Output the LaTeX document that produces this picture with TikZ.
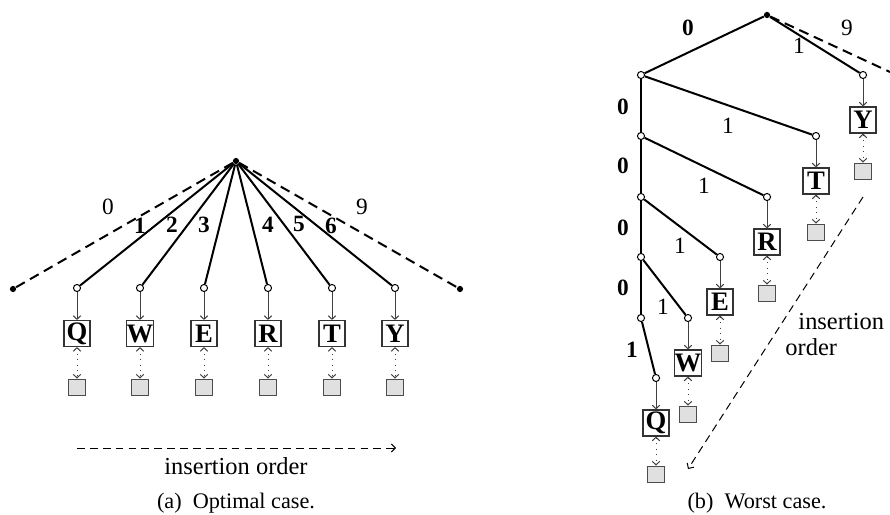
\documentclass[tikz,border=0pt]{standalone}
\usepackage{fontspec}
\setmainfont{Liberation Serif}
\usetikzlibrary{arrows.meta}
\begin{document}
\begin{tikzpicture}[x=0.45pt,y=-0.45pt,
  tnode/.style={circle,draw,fill=white,inner sep=0pt,minimum size=3.2pt,line width=0.45pt},
  rootdot/.style={circle,fill=black,inner sep=0pt,minimum size=2.8pt},
  keybox/.style={draw=black!80,line width=0.5pt,inner sep=0pt,minimum size=11.7pt,font=\fontsize{12}{12}\selectfont\bfseries},
  valbox/.style={draw=black!70,fill=black!12,line width=0.45pt,inner sep=0pt,minimum size=7.6pt},
  tedge/.style={line width=0.9pt},
  deadedge/.style={line width=0.9pt,dash pattern=on 4.5pt off 2.7pt},
  ptr/.style={draw=black!75,line width=0.45pt,-{Straight Barb[length=1.6pt,width=3.4pt]}},
  valptr/.style={draw=black!75,line width=0.45pt,dotted,{Straight Barb[length=1.6pt,width=3.4pt]}-{Straight Barb[length=1.6pt,width=3.4pt]}},
  orderarrow/.style={line width=0.45pt,dash pattern=on 3.5pt off 2.3pt,-{Straight Barb[length=1.8pt,width=3.6pt]}},
  lab/.style={font=\fontsize{10.5}{10.5}\selectfont},
  blab/.style={font=\fontsize{10.5}{10.5}\selectfont\bfseries},
  txt/.style={font=\fontsize{11}{12}\selectfont},
  captxt/.style={font=\fontsize{10}{12}\selectfont},
]
\useasboundingbox (0,0) rectangle (890,515);

% ---------- (a) optimal case ----------
\node[rootdot] (a0) at (236,161) {};
\node[rootdot] (aL) at (13,289) {};
\node[rootdot] (aR) at (460,289) {};
\draw[deadedge] (a0) -- (aL);
\draw[deadedge] (a0) -- (aR);
\foreach \i/\x/\k in {1/77/Q,2/140/W,3/204/E,4/268/R,5/332/T,6/395/Y}{
  \node[tnode] (ac\i) at (\x,288) {};
  \node[keybox] (ab\i) at (\x,333.5) {\k};
  \node[valbox] (ag\i) at (\x,387.5) {};
  \draw[tedge] (a0) -- (ac\i);
  \draw[ptr] (ac\i) -- (ab\i);
  \draw[valptr] (ab\i) -- (ag\i);
}
\node[lab] (al0) at (108,207) {0};
\node[blab] (al1) at (140,226) {1};
\node[blab] (al2) at (172,225) {2};
\node[blab] (al3) at (204,225) {3};
\node[blab] (al4) at (268,225) {4};
\node[blab] (al5) at (299,224) {5};
\node[blab] (al6) at (331,226) {6};
\node[lab] (al9) at (362,207) {9};
\coordinate (aoS) at (77,448);
\coordinate (aoE) at (396,448);
\draw[orderarrow] (aoS) -- (aoE);
\node[txt] (aot) at (236,466) {insertion order};
\node[captxt] (acap) at (236,503) {(a)\ \ Optimal case.};

% ---------- (b) worst case ----------
\node[rootdot] (r0) at (767,15) {};
\coordinate (rD) at (890,72);
\draw[deadedge] (r0) -- (rD);
\node[tnode] (n1) at (641,75) {};
\node[tnode] (n2) at (641,136) {};
\node[tnode] (n3) at (641,197) {};
\node[tnode] (n4) at (641,257) {};
\node[tnode] (n5) at (641,318) {};
\draw[tedge] (r0) -- (n1);
\draw[tedge] (n1) -- (n2);
\draw[tedge] (n2) -- (n3);
\draw[tedge] (n3) -- (n4);
\draw[tedge] (n4) -- (n5);
\foreach \n/\p/\x/\y/\k in {Y/r0/863/75/Y,T/n1/816/136/T,R/n2/767/197/R,E/n3/720/257/E,W/n4/688/318/W,Q/n5/656/378/Q}{
  \node[tnode] (l\n) at (\x,\y) {};
  \node[keybox] (b\n) at (\x,\y+45) {\k};
  \node[valbox] (g\n) at (\x,\y+96.5) {};
  \draw[tedge] (\p) -- (l\n);
  \draw[ptr] (l\n) -- (b\n);
  \draw[valptr] (b\n) -- (g\n);
}
\node[blab] (bl0) at (688,28) {0};
\node[lab] (bl1) at (799,46) {1};
\node[lab] (bl9) at (847,28) {9};
\node[blab] (bz1) at (623,107) {0};
\node[blab] (bz2) at (623,166) {0};
\node[blab] (bz3) at (623,228) {0};
\node[blab] (bz4) at (623,288) {0};
\node[blab] (bz5) at (632,350) {1};
\node[lab] (bo1) at (728,126) {1};
\node[lab] (bo2) at (704,186) {1};
\node[lab] (bo3) at (680,246) {1};
\node[lab] (bo4) at (663,307) {1};
\coordinate (boS) at (863,197);
\coordinate (boE) at (688,469);
\draw[orderarrow] (boS) -- (boE);
\node[txt,anchor=west,inner sep=0pt] (bot1) at (798,322) {insertion};
\node[txt,anchor=west,inner sep=0pt] (bot2) at (785,347) {order};
\node[captxt] (bcap) at (757,503) {(b)\ \ Worst case.};
\end{tikzpicture}
\end{document}
